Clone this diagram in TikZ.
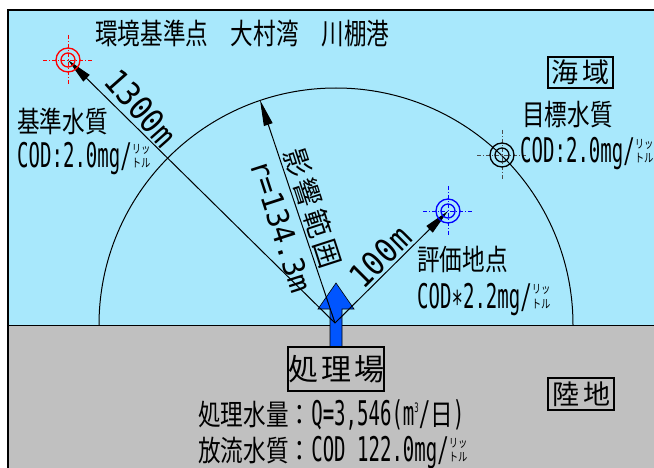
\documentclass[tikz,border=0pt]{standalone}
\usepackage{fontspec}
\usetikzlibrary{arrows.meta,calc}
\newfontfamily\jp[FakeStretch=0.78]{Noto Sans CJK JP}
\newfontfamily\jpw{Noto Sans CJK JP}
\newfontfamily\hw[FakeStretch=0.56]{DejaVu Sans Mono}
\newfontfamily\hr[FakeStretch=0.9]{DejaVu Sans Mono}
\newfontfamily\hrr[FakeStretch=0.95]{DejaVu Sans Mono}
\definecolor{sea}{RGB}{168,232,252}
\definecolor{land}{RGB}{192,192,192}
\definecolor{arrowblue}{RGB}{0,85,255}
\newcommand\Jt[1]{{\jp\fontsize{29}{30}\selectfont #1}}
\newcommand\Lt[1]{{\hw\fontsize{34}{34}\selectfont #1}}
\newcommand\ltr{{\jp\fontsize{12}{14}\selectfont\vbox{\hbox{リッ}\hbox{トル}}}}
\newcommand\supthree{\raisebox{13pt}{\hw\fontsize{13}{13}\selectfont 3}}
\tikzset{
  txt/.style={anchor=base west, inner sep=0pt},
  boxlbl/.style={draw, line width=1.2pt, inner sep=0pt, font=\jpw\fontsize{27}{27}\selectfont},
  dimline/.style={line width=1pt, -{Triangle[length=26pt,width=9pt]}},
  cross/.style={line width=0.8pt, dash pattern=on 4pt off 2pt on 1pt off 2pt},
  ring/.style={line width=1.3pt},
  rotlbl/.style={inner sep=0pt}
}
\begin{document}
\begin{tikzpicture}[x=1pt,y=-1pt]
\useasboundingbox (0,0) rectangle (654,468);
% background
\fill[sea] (8,10) rectangle (654,325);
\fill[land] (8,325) rectangle (654,468);
\draw[line width=1pt] (8,325) -- (654,325);
\draw[line width=2pt] (8,468) -- (8,10) -- (654,10);
% influence semicircle
\coordinate (C) at (336,325);
\begin{scope}
  \clip (8,10) rectangle (654,325);
  \draw[line width=1pt] (C) circle[radius=237pt];
\end{scope}
% blue discharge arrow
\fill[arrowblue, draw=black, line width=0.6pt] (330,347) -- (330,309) -- (318,309) -- (336,283) -- (354,309) -- (342,309) -- (342,347) -- cycle;
% points
\coordinate (O) at (335,323);
\coordinate (R) at (68,60);
\coordinate (K) at (502,155);
\coordinate (B) at (448,211);
\coordinate (T) at (260,100);
% dimension arrows
\draw[dimline] (O) -- (R);
\draw[dimline] (O) -- (T);
\draw[dimline] (O) -- (B);
% targets
\draw[cross, red] ($(R)+(-25,0)$) -- ($(R)+(25,0)$);
\draw[cross, red] ($(R)+(0,-25)$) -- ($(R)+(0,25)$);
\draw[ring, red] (R) circle[radius=12pt] (R) circle[radius=7pt];
\draw[cross, black!70] ($(K)+(-25,0)$) -- ($(K)+(25,0)$);
\draw[cross, black!70] ($(K)+(0,-25)$) -- ($(K)+(0,25)$);
\draw[ring, black] (K) circle[radius=12pt] (K) circle[radius=7pt];
\draw[cross, blue] ($(B)+(-25,0)$) -- ($(B)+(25,0)$);
\draw[cross, blue] ($(B)+(0,-25)$) -- ($(B)+(0,25)$);
\draw[ring, blue] (B) circle[radius=12pt] (B) circle[radius=7pt];
% rotated labels
\node[rotlbl, rotate=-48.5] (d1300) at (141,108) {\hr\fontsize{33}{33}\selectfont 1300m};
\node[rotlbl, rotate=45] (d100) at (380,257) {\hr\fontsize{33}{33}\selectfont 100m};
\node[rotlbl, rotate=-72] (eik) at (313,208) {\jpw\fontsize{28}{28}\selectfont 影\hspace{4pt}響\hspace{4pt}範\hspace{4pt}囲};
\node[rotlbl, rotate=-72] (rad) at (281,226) {\hrr\fontsize{30}{30}\selectfont r=134.3m};
% title
\node[txt] (title) at (95,45) {\jp\fontsize{29}{30}\selectfont 環境基準点　大村湾　川棚港};
% boxed labels
\node[boxlbl, minimum width=65pt, minimum height=31pt] (kaiiki) at (580.5,72.5) {海\hspace{4pt}域};
\node[boxlbl, minimum width=66pt, minimum height=32pt] (rikuchi) at (581,394) {陸\hspace{4pt}地};
\node[boxlbl, fill=land, minimum width=92pt, minimum height=44pt, font=\jpw\fontsize{30}{30}\selectfont] (shori) at (336,369) {処\hspace{3pt}理\hspace{3pt}場};
% texts
\node[txt] (kq) at (17,133) {\Jt{基準水質}};
\node[txt] (kc) at (17,168) {\Lt{COD:2.0mg/}\ltr};
\node[txt] (mq) at (522,126) {\Jt{目標水質}};
\node[txt] (mc) at (520,163) {\Lt{COD:2.0mg/}\ltr};
\node[txt] (hq) at (417,270) {\Jt{評価地点}};
\node[txt] (hc) at (417,308) {\Lt{COD∗2.2mg/}\ltr};
\node[txt] (sq) at (198,425) {\Jt{処理水量：}\Lt{Q=3,546(m}\supthree\Lt{/}\Jt{日}\Lt{)}};
\node[txt] (hr) at (198,461) {\Jt{放流水質：}\Lt{COD 122.0mg/}\ltr};
\end{tikzpicture}
\end{document}
